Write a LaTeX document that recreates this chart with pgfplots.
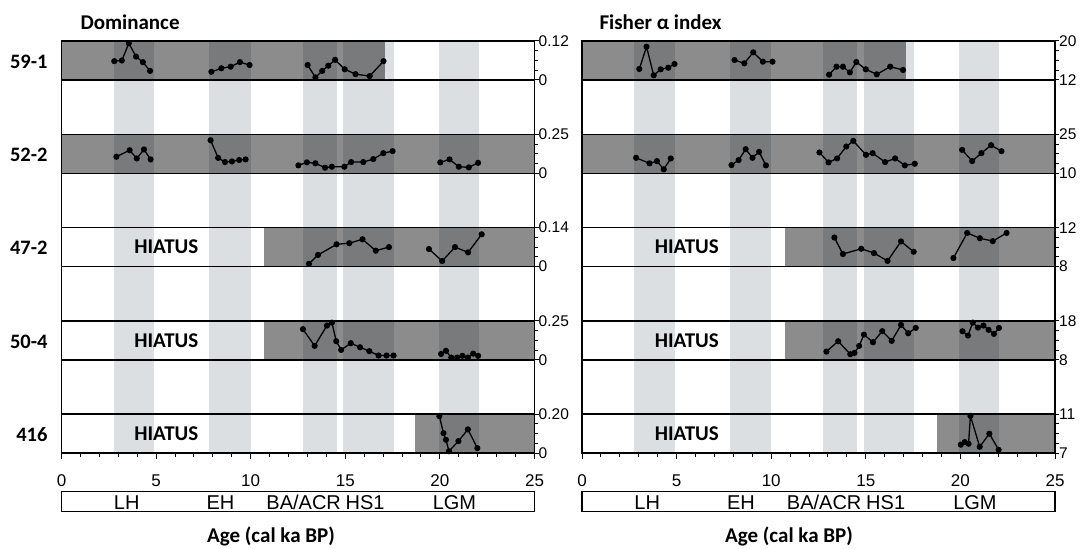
\documentclass[border=0pt]{standalone}
\usepackage{fontspec}
\setmainfont{Liberation Sans}
\newfontfamily\carl{Carlito}
\usepackage{graphicx}
\usepackage{pgfplots}
\pgfplotsset{compat=1.18}
\definecolor{band}{RGB}{220,223,226}
\pgfplotsset{
  bgax/.style={anchor=south west, scale only axis, width=473pt, height=412.2pt,
    xmin=0, xmax=25, ymin=0, ymax=1, hide axis, clip=false},
  rowax/.style={anchor=south west, scale only axis, width=473pt, height=39pt,
    xmin=0, xmax=25, xtick=\empty, ytick pos=right, yticklabel pos=right,
    tick align=outside, major tick length=4pt, minor tick length=3.5pt,
    minor y tick num=3, clip=false,
    axis line style={line width=1.4pt},
    every tick/.style={black, line width=1pt},
    yticklabel style={font=\fontsize{15.5}{15.5}\selectfont, anchor=west, inner sep=0pt}},
  dat/.style={black, line width=1.3pt, mark=*, mark size=2.4pt},
  shd/.style={draw=none, fill=black, fill opacity=0.45},
  bandf/.style={draw=none, fill=band},
  xax/.style={anchor=south west, scale only axis, width=473pt, height=39pt,
    xmin=0, xmax=25, ymin=0, ymax=1, axis x line*=bottom, axis y line=none, ytick=\empty,
    x axis line style={-, line width=1.4pt},
    xtick={0,5,10,15,20,25}, xticklabels={0,5,10,15,20,25},
    minor xtick={1,2,3,4,6,7,8,9,11,12,13,14,16,17,18,19,21,22,23,24},
    tick align=outside, major tick length=6pt, minor tick length=3.5pt,
    every tick/.style={black, line width=1pt},
    xticklabel style={font=\fontsize{17}{17}\selectfont, anchor=north, inner sep=0pt, yshift=-15pt}},
  perax/.style={anchor=south west, scale only axis, width=473pt, height=20pt,
    xmin=0, xmax=25, ymin=0, ymax=1, xtick=\empty, ytick=\empty,
    axis line style={line width=1.4pt}, clip=false},
}
\newcommand{\bands}{%
  \addplot[bandf] coordinates {(2.75,0) (2.75,1) (4.9,1) (4.9,0)} -- cycle;
  \addplot[bandf] coordinates {(7.8,0) (7.8,1) (10.0,1) (10.0,0)} -- cycle;
  \addplot[bandf] coordinates {(12.75,0) (12.75,1) (14.55,1) (14.55,0)} -- cycle;
  \addplot[bandf] coordinates {(14.88,0) (14.88,1) (17.55,1) (17.55,0)} -- cycle;
  \addplot[bandf] coordinates {(19.93,0) (19.93,1) (22.05,1) (22.05,0)} -- cycle;
  \draw[line width=1.4pt] (rel axis cs:0,0) -- (rel axis cs:0,1);
  \draw[line width=1.4pt] (rel axis cs:1,0) -- (rel axis cs:1,1);
}
\newcommand{\periods}{%
  \node[font=\fontsize{20}{20}\selectfont, anchor=base] at (axis cs:3.45,0.12) {LH};
  \node[font=\fontsize{20}{20}\selectfont, anchor=base] at (axis cs:8.4,0.12) {EH};
  \node[font=\fontsize{20}{20}\selectfont, anchor=base] at (axis cs:12.8,0.12) {BA/ACR};
  \node[font=\fontsize{20}{20}\selectfont, anchor=base] at (axis cs:16.05,0.12) {HS1};
  \node[font=\fontsize{20}{20}\selectfont, anchor=base] at (axis cs:20.77,0.12) {LGM};
}
\newcommand{\hiatus}{\node[font=\carl\bfseries\fontsize{21}{21}\selectfont] at (rel axis cs:0.2216,0.5) {HIATUS};}
\newcommand{\rlab}{\carl\bfseries\fontsize{20.5}{20.5}\selectfont}
\begin{document}
\begin{tikzpicture}
\path[use as bounding box] (0pt,0pt) rectangle (1082pt,549pt);
% ================= LEFT PANEL: Dominance =================
\begin{axis}[bgax, at={(61.5pt,95.8pt)}]
\bands
\end{axis}
% 59-1
\begin{axis}[rowax, at={(61.5pt,469pt)}, ymin=0, ymax=0.12, ytick={0,0.12}, yticklabels={0,0.12}]
\addplot[shd] coordinates {(0,0) (0,0.12) (17.12,0.12) (17.12,0)} -- cycle;
\addplot[dat] coordinates {(2.79,0.058) (3.19,0.060) (3.56,0.113) (3.94,0.072) (4.30,0.055) (4.68,0.028)};
\addplot[dat] coordinates {(7.92,0.025) (8.45,0.036) (8.94,0.041) (9.43,0.055) (9.94,0.046)};
\addplot[dat] coordinates {(13.01,0.046) (13.42,0.008) (13.78,0.028) (14.10,0.044) (14.46,0.062) (14.97,0.033) (15.54,0.018) (16.29,0.012) (17.02,0.058)};
\end{axis}
% 52-2
\begin{axis}[rowax, at={(61.5pt,375.7pt)}, ymin=0, ymax=0.25, ytick={0,0.25}, yticklabels={0,0.25}]
\addplot[shd] coordinates {(0,0) (0,0.25) (25,0.25) (25,0)} -- cycle;
\addplot[dat] coordinates {(2.90,0.106) (3.60,0.148) (3.98,0.095) (4.36,0.153) (4.71,0.089)};
\addplot[dat] coordinates {(7.88,0.212) (8.28,0.099) (8.64,0.072) (9.01,0.076) (9.39,0.085) (9.73,0.089)};
\addplot[dat] coordinates {(12.52,0.051) (12.97,0.070) (13.42,0.064) (13.93,0.036) (14.29,0.042) (14.95,0.042) (15.31,0.072) (15.95,0.072) (16.48,0.091) (17.01,0.129) (17.50,0.142)};
\addplot[dat] coordinates {(20.02,0.070) (20.51,0.089) (21.00,0.042) (21.53,0.038) (22.02,0.067)};
\end{axis}
% 47-2
\begin{axis}[rowax, at={(61.5pt,282.4pt)}, ymin=0, ymax=0.14, ytick={0,0.14}, yticklabels={0,0.14}]
\addplot[shd] coordinates {(10.7,0) (10.7,0.14) (25,0.14) (25,0)} -- cycle;
\hiatus
\addplot[dat] coordinates {(13.08,0.010) (13.56,0.042) (14.54,0.080) (15.21,0.084) (15.91,0.098) (16.61,0.057) (17.31,0.070)};
\addplot[dat] coordinates {(19.42,0.063) (20.12,0.020) (20.80,0.070) (21.49,0.051) (22.21,0.116)};
\end{axis}
% 50-4
\begin{axis}[rowax, at={(61.5pt,189.1pt)}, ymin=0, ymax=0.25, ytick={0,0.25}, yticklabels={0,0.25}]
\addplot[shd] coordinates {(10.7,0) (10.7,0.25) (25,0.25) (25,0)} -- cycle;
\hiatus
\addplot[dat] coordinates {(12.76,0.197) (13.38,0.090) (14.03,0.220) (14.29,0.239) (14.52,0.120) (14.78,0.064) (15.29,0.107) (15.78,0.081) (16.27,0.056) (16.76,0.028) (17.18,0.028) (17.55,0.028)};
\addplot[dat] coordinates {(20.06,0.038) (20.32,0.058) (20.60,0.015) (20.91,0.015) (21.19,0.026) (21.48,0.015) (21.76,0.040) (22.02,0.026)};
\end{axis}
% 416
\begin{axis}[rowax, at={(61.5pt,95.8pt)}, ymin=0, ymax=0.20, ytick={0,0.20}, yticklabels={0,0.20}]
\addplot[shd] coordinates {(18.7,0) (18.7,0.20) (25,0.20) (25,0)} -- cycle;
\hiatus
\addplot[dat] coordinates {(19.97,0.190) (20.19,0.103) (20.32,0.069) (20.48,0.010) (20.98,0.062) (21.48,0.122) (21.98,0.026)};
\end{axis}
\begin{axis}[xax, at={(61.5pt,95.8pt)}]
\end{axis}
\begin{axis}[perax, at={(61.5pt,37.3pt)}]
\periods
\end{axis}
% ================= RIGHT PANEL: Fisher alpha =================
\begin{axis}[bgax, at={(582pt,95.8pt)}]
\bands
\end{axis}
% 59-1
\begin{axis}[rowax, at={(582pt,469pt)}, ymin=12, ymax=20, ytick={12,20}, yticklabels={12,20}]
\addplot[shd] coordinates {(0,12) (0,20) (17.15,20) (17.15,12)} -- cycle;
\addplot[dat] coordinates {(3.03,14.26) (3.41,18.83) (3.79,12.96) (4.16,14.19) (4.56,14.53) (4.89,15.28)};
\addplot[dat] coordinates {(8.06,16.10) (8.58,15.42) (9.05,17.68) (9.56,15.76) (10.07,15.76)};
\addplot[dat] coordinates {(13.06,13.09) (13.45,14.73) (13.79,14.73) (14.16,13.57) (14.50,15.69) (15.00,14.19) (15.58,13.16) (16.29,14.73) (16.97,14.05)};
\end{axis}
% 52-2
\begin{axis}[rowax, at={(582pt,375.7pt)}, ymin=10, ymax=25, ytick={10,25}, yticklabels={10,25}]
\addplot[shd] coordinates {(0,10) (0,25) (25,25) (25,10)} -- cycle;
\addplot[dat] coordinates {(2.86,15.95) (3.57,13.82) (3.96,14.69) (4.32,11.53) (4.69,15.72)};
\addplot[dat] coordinates {(7.90,13.17) (8.28,15.08) (8.65,19.27) (9.01,15.95) (9.36,18.24) (9.72,13.05)};
\addplot[dat] coordinates {(12.55,18.01) (13.03,14.20) (13.48,15.72) (13.97,20.30) (14.34,22.44) (15.01,17.10) (15.36,17.75) (16.02,14.31) (16.55,15.72) (17.06,13.05) (17.59,13.66)};
\addplot[dat] coordinates {(20.09,19.01) (20.62,14.69) (21.11,17.75) (21.62,20.80) (22.17,18.51)};
\end{axis}
% 47-2
\begin{axis}[rowax, at={(582pt,282.4pt)}, ymin=8, ymax=12, ytick={8,12}, yticklabels={8,12}]
\addplot[shd] coordinates {(10.75,8) (10.75,12) (25,12) (25,8)} -- cycle;
\hiatus
\addplot[dat] coordinates {(13.34,10.98) (13.79,9.29) (14.76,9.83) (15.43,9.39) (16.15,8.58) (16.86,10.58) (17.53,9.52)};
\addplot[dat] coordinates {(19.63,8.88) (20.36,11.45) (21.03,10.91) (21.71,10.61) (22.44,11.45)};
\end{axis}
% 50-4
\begin{axis}[rowax, at={(582pt,189.1pt)}, ymin=8, ymax=18, ytick={8,18}, yticklabels={8,18}]
\addplot[shd] coordinates {(10.75,8) (10.75,18) (25,18) (25,8)} -- cycle;
\hiatus
\addplot[dat] coordinates {(12.92,10.13) (13.54,12.79) (14.18,9.46) (14.40,9.79) (14.65,11.59) (14.90,14.49) (15.38,12.53) (15.87,15.36) (16.37,12.87) (16.86,16.97) (17.24,14.83) (17.64,16.21)};
\addplot[dat] coordinates {(20.11,15.36) (20.40,14.24) (20.65,17.56) (20.93,16.28) (21.22,16.80) (21.49,15.69) (21.77,14.67) (22.04,16.21)};
\end{axis}
% 416
\begin{axis}[rowax, at={(582pt,95.8pt)}, ymin=7, ymax=11, ytick={7,11}, yticklabels={7,11}]
\addplot[shd] coordinates {(18.75,7) (18.75,11) (25,11) (25,7)} -- cycle;
\hiatus
\addplot[dat] coordinates {(20.02,7.87) (20.23,8.14) (20.43,7.97) (20.53,10.82) (21.02,7.66) (21.53,9.00) (22.02,7.35)};
\end{axis}
\begin{axis}[xax, at={(582pt,95.8pt)}]
\end{axis}
\begin{axis}[perax, at={(582pt,37.3pt)}]
\periods
\end{axis}
% ================= TEXT =================
\node[font=\carl\bfseries\fontsize{21}{21}\selectfont, anchor=base west] at (77pt,519.7pt) {Dominance};
\node[font=\carl\bfseries\fontsize{21}{21}\selectfont, anchor=base west] at (596pt,519.7pt) {Fisher α index};
\node[font=\rlab, anchor=east] at (51pt,487.5pt) {59-1};
\node[font=\rlab, anchor=east] at (51pt,394.2pt) {52-2};
\node[font=\rlab, anchor=east] at (51pt,300.9pt) {47-2};
\node[font=\rlab, anchor=east] at (51pt,207.6pt) {50-4};
\node[font=\rlab, anchor=east] at (51pt,114.3pt) {416};
\node[font=\carl\bfseries\fontsize{21}{21}\selectfont, anchor=base] at (271pt,6pt) {Age (cal ka BP)};
\node[font=\carl\bfseries\fontsize{21}{21}\selectfont, anchor=base] at (789pt,6pt) {Age (cal ka BP)};
\end{tikzpicture}
\end{document}
